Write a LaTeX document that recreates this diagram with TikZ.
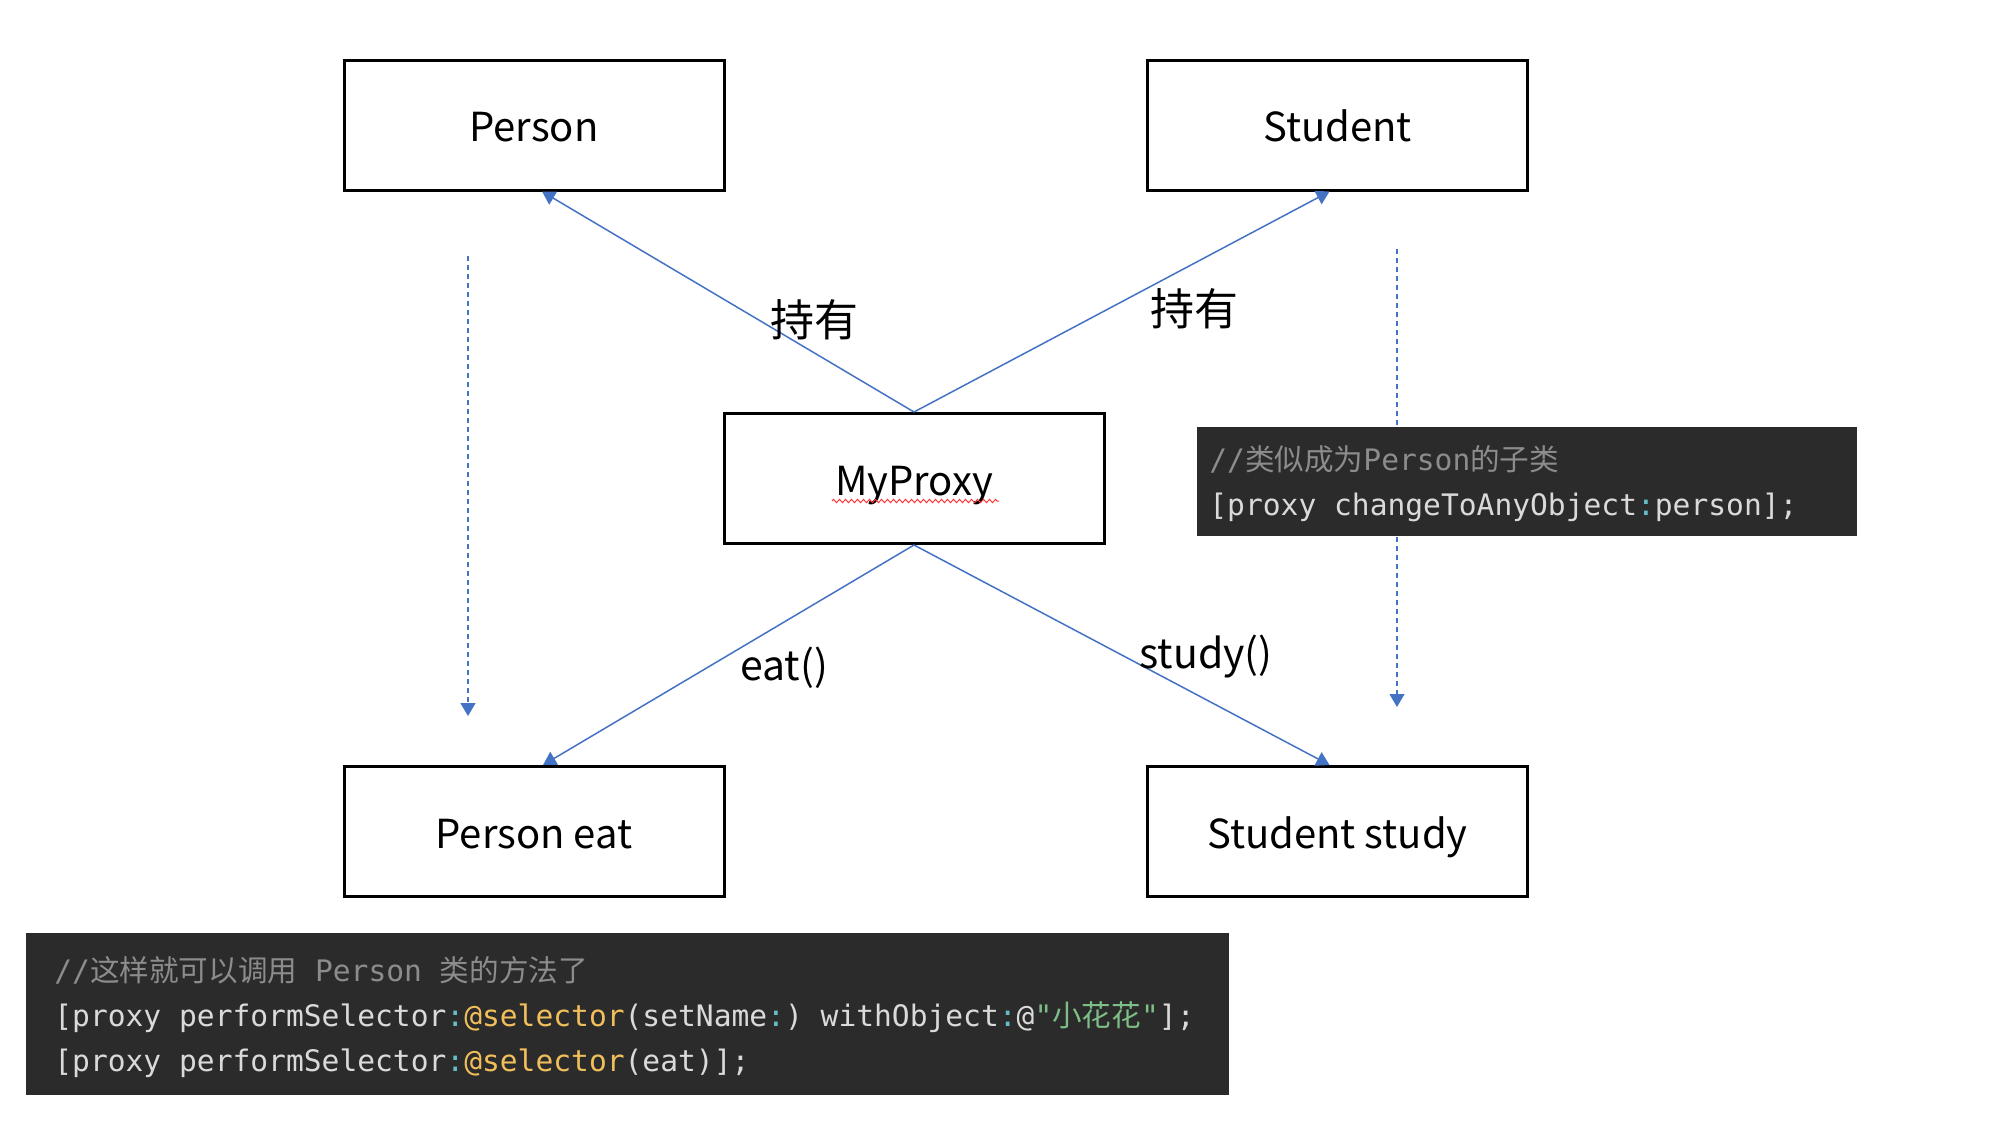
\documentclass[tikz,border=0pt]{standalone}
\usepackage{fontspec}
\setmainfont{Noto Sans CJK SC}
\setmonofont{DejaVu Sans Mono}
\newfontfamily\cjk{Noto Sans CJK SC}
\usetikzlibrary{arrows.meta,decorations.pathmorphing}
\definecolor{lineblue}{RGB}{68,114,196}
\definecolor{codebg}{RGB}{43,43,43}
\definecolor{codefg}{RGB}{218,218,218}
\definecolor{codegray}{RGB}{140,140,140}
\definecolor{codecyan}{RGB}{100,190,200}
\definecolor{codeyellow}{RGB}{240,190,90}
\definecolor{codegreen}{RGB}{125,190,135}
\newcommand{\cc}[1]{{\color{codecyan}#1}}
\newcommand{\cy}[1]{{\color{codeyellow}#1}}

\begin{document}
\begin{tikzpicture}[x=0.5pt,y=-0.5pt]
  \useasboundingbox (0,0) rectangle (2004,1136);
  \tikzstyle{bnode} = [draw=black, line width=1.5pt, minimum width=190pt, minimum height=65pt, inner sep=0pt, text height=18pt, text depth=1.5pt, font=\fontsize{20}{24}\selectfont]
  \tikzstyle{link} = [draw=lineblue, line width=0.75pt, -{Triangle[width=7.5pt,length=6.5pt]}]
  \tikzstyle{dlink} = [link, line width=0.6pt, dash pattern=on 2.5pt off 2pt]
  \tikzstyle{lbl} = [inner sep=0pt, font=\fontsize{20.5}{24}\selectfont]
  \tikzstyle{code} = [anchor=base west, inner sep=0pt, text=codefg, font=\ttfamily\fontsize{14.8}{17}\selectfont]

  % boxes
  \node[bnode] (person) at (534,125) {Person};
  \node[bnode] (student) at (1337.5,125) {Student};
  \node[bnode] (proxy) at (914,478.5) {MyProxy};
  \node[bnode] (personeat) at (534,831.5) {Person eat};
  \node[bnode] (studentstudy) at (1337.5,831.5) {Student study};
  \draw[red!80, line width=0.5pt, decorate, decoration={zigzag, segment length=3pt, amplitude=0.8pt}] (832,501) -- (999,501);

  % connectors
  \draw[link] (proxy.north) -- ([xshift=4pt]person.south);
  \draw[link] (proxy.north) -- ([xshift=-4pt]student.south);
  \draw[link] (proxy.south) -- ([xshift=4.5pt]personeat.north);
  \draw[link] (proxy.south) -- ([xshift=-4pt]studentstudy.north);

  \coordinate (ltop) at (468,256);
  \coordinate (lbot) at (468,716);
  \coordinate (rtop) at (1397,249);
  \coordinate (rbot) at (1397,707);
  \draw[dlink] (ltop) -- (lbot);
  \draw[dlink] (rtop) -- (rbot);

  \node[lbl, font=\fontsize{22}{26}\selectfont] (hold1) at (814,320) {持有};
  \node[lbl, font=\fontsize{22}{26}\selectfont] (hold2) at (1194,309) {持有};
  \node[lbl] (eatl) at (784,668) {eat()};
  \node[lbl] (studyl) at (1206,657) {study()};

  % code snippets
  \fill[codebg] (1197,427) rectangle (1857,536);
  \node[code, text=codegray] (c1a) at (1209,470) {//{\cjk 类似成为}Person{\cjk 的子类}};
  \node[code] (c1b) at (1209,515) {[proxy changeToAnyObject\cc{:}person];};

  \fill[codebg] (26,933) rectangle (1229,1095);
  \node[code, text=codegray] (c2a) at (54,981) {//{\cjk 这样就可以调用} Person {\cjk 类的方法了}};
  \node[code] (c2b) at (54,1026) {[proxy performSelector\cc{:}\cy{@selector}(setName\cc{:}) withObject\cc{:}@{\color{codegreen}"{\cjk 小花花}"}];};
  \node[code] (c2c) at (54,1071) {[proxy performSelector\cc{:}\cy{@selector}(eat)];};
\end{tikzpicture}
\end{document}
